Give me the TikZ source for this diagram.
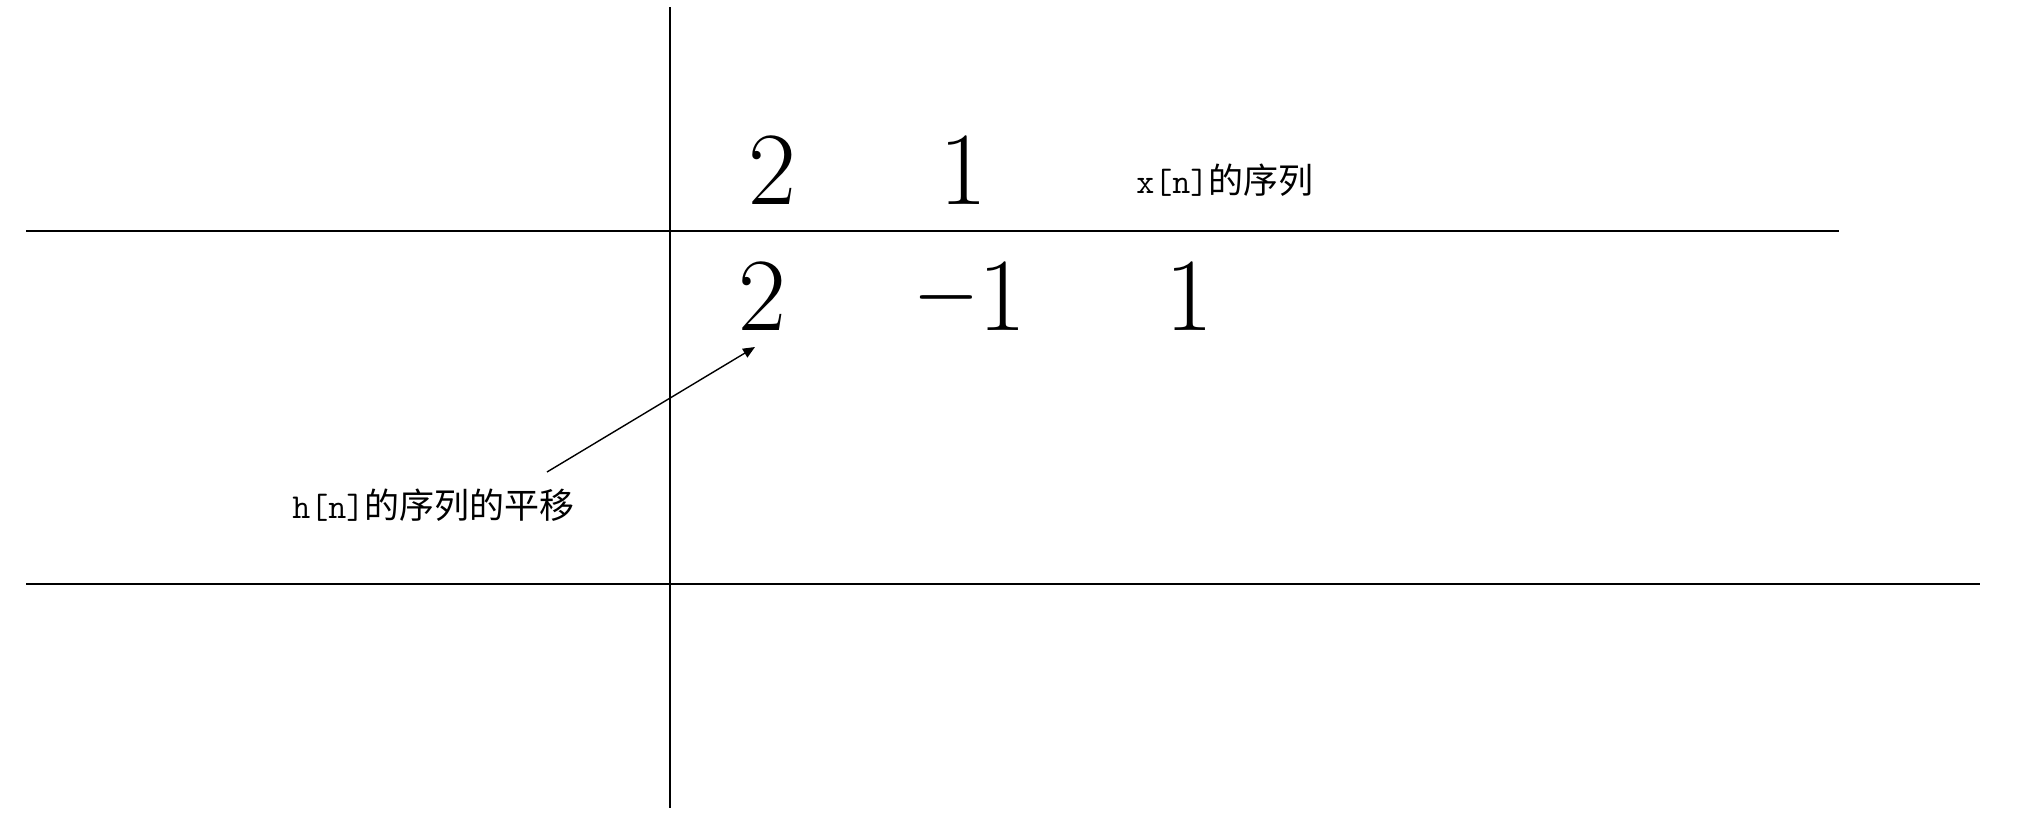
\documentclass[tikz,border=0pt]{standalone}
\usepackage{fontspec}
\usepackage{graphicx}
\newfontfamily\cjk{Noto Sans CJK SC}
\usetikzlibrary{arrows.meta}
\tikzset{
  axis/.style={line width=1pt, black},
  bignum/.style={inner sep=0pt, anchor=base, font=\fontsize{52}{60}\selectfont},
  lbl/.style={inner sep=0pt, anchor=west, font=\fontsize{17.5}{21}\selectfont},
  pointer/.style={line width=0.7pt, -{Triangle[length=6pt,width=5pt]}}
}
\begin{document}
\begin{tikzpicture}[x=0.5pt,y=-0.5pt]
\useasboundingbox (0,0) rectangle (2022,835);
% axes
\coordinate (vt) at (670,7);
\coordinate (vb) at (670,808);
\coordinate (h1l) at (26,231);
\coordinate (h1r) at (1839,231);
\coordinate (h2l) at (26,584);
\coordinate (h2r) at (1980,584);
\draw[axis] (vt) -- (vb);
\draw[axis] (h1l) -- (h1r);
\draw[axis] (h2l) -- (h2r);
% x[n] sequence
\node[bignum] (x0) at (772,204) {2};
\node[bignum] (x1) at (963,204) {1};
\node[lbl] (xl) at (1136,180) {{\ttfamily x[n]}{\cjk 的序列}};
% h[n] shifted
\node[bignum] (h0) at (762,330) {2};
\node[bignum] (h1) at (971,330) {\raisebox{0.06em}{\scalebox{0.8}[1]{−}}\kern0.02em 1};
\node[bignum] (h2) at (1189,330) {1};
\node[lbl] (hl) at (292,505) {{\ttfamily h[n]}{\cjk 的序列的平移}};
% pointer
\coordinate (ps) at (547,472);
\coordinate (pe) at (755,347);
\draw[pointer] (ps) -- (pe);
\end{tikzpicture}
\end{document}
